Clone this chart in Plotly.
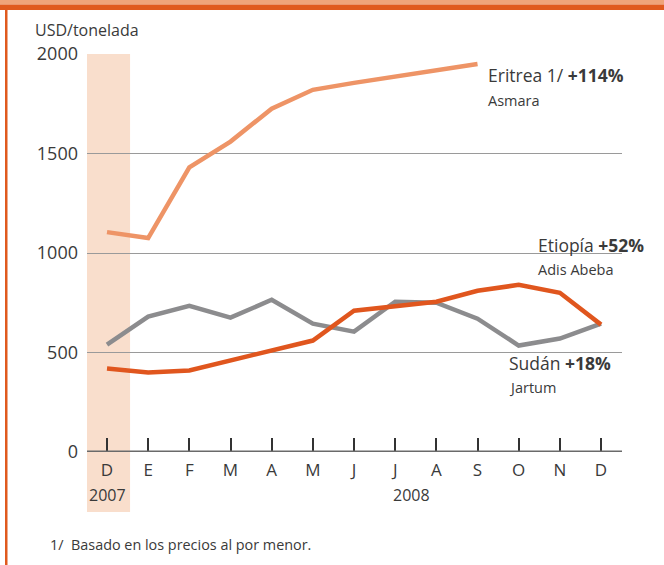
import plotly.graph_objects as go

months = ["D", "E", "F", "M", "A", "M", "J", "J", "A", "S", "O", "N", "D"]
eritrea = [1105, 1075, 1430, 1560, 1725, 1820, 1855, 1885, 1915, 1950]
etiopia = [420, 400, 410, 460, 515, 560, 710, 730, 755, 810, 840, 800, 640]
sudan = [540, 680, 735, 675, 765, 645, 605, 755, 750, 670, 535, 570, 645]
yticks = [0, 500, 1000, 1500, 2000]

W, H = 664, 565
L, R, T, B = 87, 622, 54, 452
x0pix, dx = 107, 41.17
xmin = (L - x0pix) / dx
xmax = (R - x0pix) / dx

def px(p):
    return (p - L) / (R - L)

def py(p):
    return (B - p) / (B - T)

FONT = "Open Sans"
TXT = "#3a3a3a"

fig = go.Figure()
xs = list(range(len(months)))
fig.add_trace(go.Scatter(x=xs[:len(eritrea)], y=eritrea, mode="lines",
                         line=dict(color="#EE9466", width=4.5), cliponaxis=False))
fig.add_trace(go.Scatter(x=xs, y=sudan, mode="lines",
                         line=dict(color="#8C8C8E", width=4.5), cliponaxis=False))
fig.add_trace(go.Scatter(x=xs, y=etiopia, mode="lines",
                         line=dict(color="#E0561E", width=4.5), cliponaxis=False))

shapes = [
    dict(type="rect", xref="x", yref="paper", x0=-0.51, x1=0.56, y0=py(512), y1=1,
         fillcolor="#F9DECC", line=dict(width=0), layer="below"),
    dict(type="rect", xref="paper", yref="paper", x0=px(-5), x1=px(W + 5), y0=py(4.5), y1=py(-5),
         fillcolor="#EFA47A", line=dict(width=0)),
    dict(type="rect", xref="paper", yref="paper", x0=px(-5), x1=px(W + 5), y0=py(10), y1=py(4.5),
         fillcolor="#E05A1E", line=dict(width=0)),
    dict(type="rect", xref="paper", yref="paper", x0=px(5), x1=px(7.5), y0=py(H + 5), y1=py(10),
         fillcolor="#E05A1E", line=dict(width=0)),
    dict(type="line", xref="paper", yref="y", x0=0, x1=1, y0=0, y1=0,
         line=dict(color="#6a6a6a", width=3)),
]

def ann(x, y, text, size, xref="x", yref="y", xanchor="left"):
    return dict(x=x, y=y, xref=xref, yref=yref, xanchor=xanchor, yanchor="middle",
                showarrow=False, text=text, font=dict(size=size, color=TXT, family=FONT))

annotations = [
    ann(9.2, 1892, "Eritrea 1/ <b>+114%</b>", 17.5),
    ann(9.2, 1766, "Asmara", 14.5),
    ann(10.41, 1038, "Etiopía <b>+52%</b>", 17.5),
    ann(10.41, 917, "Adis Abeba", 14.5),
    ann(9.71, 445, "Sudán <b>+18%</b>", 17.5),
    ann(9.71, 324, "Jartum", 14.5),
    ann(0, py(495), "2007", 16, yref="paper", xanchor="center"),
    ann(7.4, py(495), "2008", 16, yref="paper", xanchor="center"),
    ann(px(33), py(30), "USD/tonelada", 16, xref="paper", yref="paper"),
    ann(px(48), py(544), "1/  Basado en los precios al por menor.", 14.4, xref="paper", yref="paper"),
]

fig.update_layout(
    width=W, height=H,
    margin=dict(l=L, r=W - R, t=T, b=H - B),
    paper_bgcolor="white", plot_bgcolor="white",
    showlegend=False,
    shapes=shapes, annotations=annotations,
    font=dict(family=FONT, color=TXT),
    xaxis=dict(range=[xmin, xmax], tickmode="array", tickvals=xs, ticktext=months,
               showgrid=False, zeroline=False, showline=False,
               ticks="inside", ticklen=14, tickwidth=2, tickcolor="#333",
               ticklabelstandoff=6,
               tickfont=dict(size=17, color=TXT, family=FONT), fixedrange=True),
    yaxis=dict(range=[0, 2000], tickmode="array", tickvals=yticks,
               showgrid=True, gridcolor="#9a9a9a", gridwidth=1,
               zeroline=False, showline=False, ticks="",
               ticklabelstandoff=8,
               tickfont=dict(size=18, color=TXT, family=FONT), fixedrange=True),
)

fig.write_html("out.html", config={"displayModeBar": False},
               post_script="document.body.style.margin='0';")
